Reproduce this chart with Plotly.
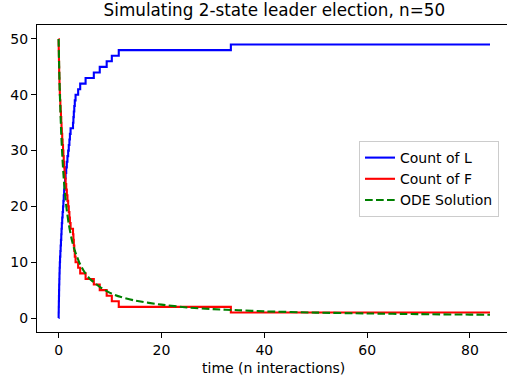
import plotly.graph_objects as go

# Event times (in units of n interactions) at which the counts change
event_times = [0.0, 0.01, 0.03, 0.05, 0.07, 0.09, 0.11, 0.14, 0.17, 0.20, 0.24,
               0.28, 0.34, 0.40, 0.46, 0.52, 0.57, 0.63, 0.70, 0.78, 0.86,
               0.93, 1.00, 1.08, 1.16, 1.26, 1.36, 1.48, 1.60, 1.72, 1.86,
               1.98, 2.10, 2.20, 2.33, 2.80, 2.88, 2.96, 3.05, 3.15, 3.30,
               3.80, 4.20, 5.25, 6.85, 8.00, 9.35, 10.35, 11.70, 33.50, 83.90]

# Number of leaders after each event
count_L = [0, 1, 2, 3, 4, 5, 6, 7, 8, 9, 10,
           11, 12, 13, 14, 15, 16, 17, 18, 19, 20,
           21, 22, 23, 24, 25, 26, 27, 28, 29, 30,
           31, 32, 33, 34, 35, 36, 37, 38, 39, 40,
           41, 42, 43, 44, 45, 46, 47, 48, 49, 49]

# Number of followers after each event
count_F = [50, 49, 48, 47, 46, 45, 44, 43, 42, 41, 40,
           39, 38, 37, 36, 35, 34, 33, 32, 31, 30,
           29, 28, 27, 26, 25, 24, 23, 22, 21, 20,
           19, 18, 17, 16, 15, 14, 13, 12, 11, 10,
           9, 8, 7, 6, 5, 4, 3, 2, 1, 1]

# Deterministic ODE trajectory
ode_times = [0, 0.1, 0.25, 0.5, 0.75, 1, 1.5, 2, 2.5, 3, 4, 5, 6, 8, 10, 12,
             15, 20, 25, 30, 35, 40, 50, 60, 70, 80, 83.9]
ode_values = [50, 45.5, 40, 33.3, 28.6, 25, 20, 16.7, 14.3, 12.5, 10, 8.3, 7.1,
              5.6, 4.5, 3.8, 3.1, 2.4, 1.9, 1.6, 1.4, 1.2, 0.98, 0.82, 0.70,
              0.62, 0.59]

title_text = "Simulating 2-state leader election, n=50"
x_label = "time (n interactions)"
x_ticks = [0, 20, 40, 60, 80]
y_ticks = [0, 10, 20, 30, 40, 50]

font_family = "DejaVu Sans"
lw = 2.1

fig = go.Figure()
fig.add_trace(go.Scatter(x=event_times, y=count_L, mode="lines", name="Count of L",
                         line=dict(color="#0000ff", width=lw, shape="hv")))
fig.add_trace(go.Scatter(x=event_times, y=count_F, mode="lines", name="Count of F",
                         line=dict(color="#ff0000", width=lw, shape="hv")))
fig.add_trace(go.Scatter(x=ode_times, y=ode_values, mode="lines", name="ODE Solution",
                         line=dict(color="#008000", width=lw, dash="7.7px,3.3px",
                                   shape="spline", smoothing=0.6)))

fig.add_annotation(text=x_label, xref="paper", yref="paper",
                   x=(273.5 - 37) / 470, y=-(368 - 332) / 307,
                   xanchor="center", yanchor="middle", showarrow=False,
                   font=dict(size=14, color="black"))

fig.update_layout(
    width=507, height=382, autosize=False,
    margin=dict(l=37, r=0, t=25, b=50),
    paper_bgcolor="white", plot_bgcolor="white",
    font=dict(family=font_family, size=14, color="black"),
    title=dict(text=title_text, font=dict(size=16.8, color="black"),
               x=(274.4 - 37) / 470, xref="paper", xanchor="center",
               y=1 - 10.5 / 382, yref="container", yanchor="middle"),
    showlegend=True,
    legend=dict(x=(359 - 37) / 470, y=(332 - 141) / 307, xanchor="left", yanchor="top",
                bgcolor="white", bordercolor="#cccccc", borderwidth=1,
                font=dict(size=14), tracegroupgap=0, itemwidth=30),
    xaxis=dict(range=[-4.2, 87.2], tickvals=x_ticks, showgrid=False, zeroline=False,
               showline=True, mirror=True, linecolor="black", linewidth=1.1,
               ticks="outside", ticklen=5, tickwidth=1.1, tickcolor="black"),
    yaxis=dict(range=[-2.5, 52.5], tickvals=y_ticks, showgrid=False, zeroline=False,
               showline=True, mirror=False, linecolor="black", linewidth=1.1,
               ticks="outside", ticklen=5, tickwidth=1.1, tickcolor="black"),
)

fig.write_html("out.html")
